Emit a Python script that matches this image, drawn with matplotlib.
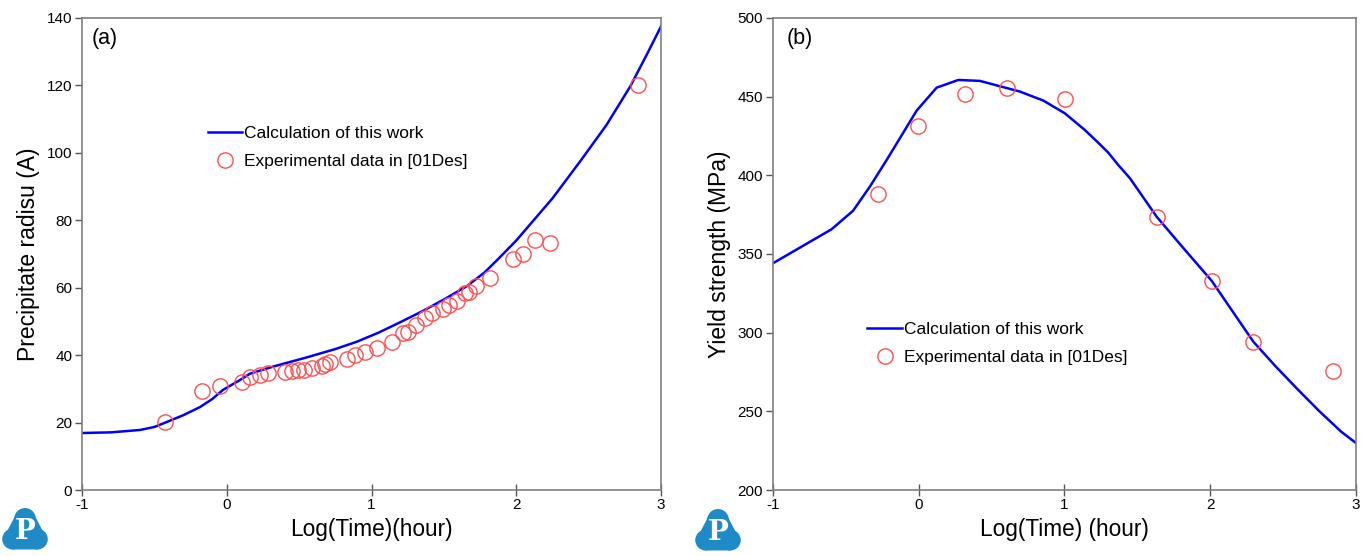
import matplotlib.pyplot as plt
from matplotlib.patches import Circle, Polygon

plt.rcParams['font.family'] = ['Liberation Sans', 'DejaVu Sans']
plt.rcParams['axes.unicode_minus'] = False

# panel (a): precipitate radius
calc_a_x = [-1.0, -0.8, -0.6, -0.5, -0.43, -0.3, -0.185, -0.1, -0.026, 0.09, 0.16,
            0.32, 0.55, 0.75, 0.9, 1.05, 1.2, 1.35, 1.5, 1.66, 1.78, 1.87, 2.0,
            2.12, 2.25, 2.44, 2.624, 2.786, 2.9, 3.0]
calc_a_y = [16.9, 17.1, 17.8, 18.7, 19.9, 22.2, 24.6, 27.0, 29.7, 32.6, 34.5,
            36.6, 39.3, 41.8, 44.0, 46.7, 49.8, 53.0, 56.5, 60.5, 64.5, 68.3, 74.0,
            80.0, 86.5, 97.4, 108.3, 119.6, 129.0, 137.5]
exp_a_x = [-0.43, -0.173, -0.047, 0.103, 0.16, 0.23, 0.287, 0.40, 0.449, 0.494, 0.53,
           0.587, 0.656, 0.68, 0.713, 0.829, 0.886, 0.955, 1.04, 1.14,
           1.22, 1.254, 1.31, 1.37, 1.42, 1.496, 1.537, 1.59, 1.646, 1.67, 1.72,
           1.82, 1.975, 2.044, 2.13, 2.233, 2.84]
exp_a_y = [20.3, 29.5, 30.9, 32.1, 33.6, 34.1, 34.6, 34.9, 35.4, 35.6, 35.6,
           36.1, 36.8, 37.3, 37.9, 38.8, 40.0, 40.8, 42.0, 44.0,
           46.5, 47.0, 48.9, 50.9, 52.4, 53.6, 54.9, 56.2, 58.3, 58.8, 60.6,
           63.0, 68.5, 70.0, 74.0, 73.2, 120.1]

# panel (b): yield strength
calc_b_x = [-1.0, -0.598, -0.45, -0.335, -0.22, -0.014, 0.123, 0.272, 0.42, 0.695,
            0.855, 1.003, 1.14, 1.22, 1.3, 1.37, 1.45, 1.633, 1.8, 2.01, 2.296,
            2.45, 2.6, 2.75, 2.9, 3.0]
calc_b_y = [344.1, 365.7, 377.5, 392.8, 409.7, 441.1, 455.7, 460.6, 460.0, 453.2,
            447.5, 439.4, 428.8, 421.8, 414.5, 406.5, 398.1, 373.7, 355.5, 333.0, 294.3,
            278.5, 264.0, 250.0, 237.0, 229.9]
exp_b_x = [-0.282, -0.003, 0.317, 0.608, 1.003, 1.633, 2.01, 2.296, 2.84]
exp_b_y = [388.0, 431.5, 451.7, 455.7, 448.5, 373.3, 333.0, 294.3, 275.8]

fig = plt.figure(figsize=(13.7, 5.56), dpi=100)
ax1 = fig.add_axes([0.0599, 0.1187, 0.4226, 0.849])
ax2 = fig.add_axes([0.5642, 0.1187, 0.4255, 0.849])


def style(ax):
    for s in ax.spines.values():
        s.set_color('#808080')
        s.set_linewidth(1.2)
    ax.tick_params(axis='y', direction='out', length=5, width=1, color='#555555',
                   labelsize=11, pad=2)
    ax.tick_params(axis='x', direction='inout', length=8, width=1, color='#555555',
                   labelsize=11, pad=2)


leg_kw = dict(frameon=False, fontsize=12.5, handlelength=2.0, handletextpad=0.1,
              labelspacing=0.75)

ax1.plot(calc_a_x, calc_a_y, color='#0000ff', lw=1.8, label='Calculation of this work')
ax1.plot(exp_a_x, exp_a_y, 'o', mfc='none', mec='#ff5050', ms=11, mew=1.0,
         label='Experimental data in [01Des]')
ax1.set_xlim(-1, 3)
ax1.set_ylim(0, 140)
ax1.set_xticks([-1, 0, 1, 2, 3])
ax1.set_yticks(range(0, 141, 20))
ax1.set_xlabel('Log(Time)(hour)', fontsize=16.3)
ax1.set_ylabel('Precipitate radisu (A)', fontsize=16.5, labelpad=5)
ax1.text(0.017, 0.978, '(a)', transform=ax1.transAxes, fontsize=15.5, va='top')
ax1.legend(loc='upper left', bbox_to_anchor=(0.19, 0.805), **leg_kw)
style(ax1)

ax2.plot(calc_b_x, calc_b_y, color='#0000ff', lw=1.8, label='Calculation of this work')
ax2.plot(exp_b_x, exp_b_y, 'o', mfc='none', mec='#ff5050', ms=11, mew=1.0,
         label='Experimental data in [01Des]')
ax2.set_xlim(-1, 3)
ax2.set_ylim(200, 500)
ax2.set_xticks([-1, 0, 1, 2, 3])
ax2.set_yticks(range(200, 501, 50))
ax2.set_xlabel('Log(Time) (hour)', fontsize=16.3)
ax2.set_ylabel('Yield strength (MPa)', fontsize=16.5, labelpad=5)
ax2.text(0.024, 0.978, '(b)', transform=ax2.transAxes, fontsize=15.5, va='top')
ax2.legend(loc='upper left', bbox_to_anchor=(0.135, 0.39), **leg_kw)
style(ax2)


def logo(cx, cy):
    # small blue three-lobed badge with a white P
    w, h = 46 / 1370, 46 / 556
    lax = fig.add_axes([cx - w / 2, cy - h / 2, w, h])
    lax.set_xlim(0, 1)
    lax.set_ylim(0, 1)
    lax.axis('off')
    c = '#1f8ac8'
    lax.add_patch(Circle((0.5, 0.72), 0.22, color=c))
    lax.add_patch(Circle((0.23, 0.28), 0.21, color=c))
    lax.add_patch(Circle((0.77, 0.28), 0.21, color=c))
    lax.add_patch(Polygon([[0.3, 0.78], [0.7, 0.78], [0.95, 0.3], [0.77, 0.07],
                           [0.23, 0.07], [0.05, 0.3]], color=c))
    lax.text(0.5, 0.45, 'P', color='white', fontsize=20, fontweight='bold',
             family='DejaVu Serif', ha='center', va='center')


logo(25 / 1370, 1 - 529 / 556)
logo(718 / 1370, 1 - 530 / 556)

fig.savefig('out.png', dpi=100)
